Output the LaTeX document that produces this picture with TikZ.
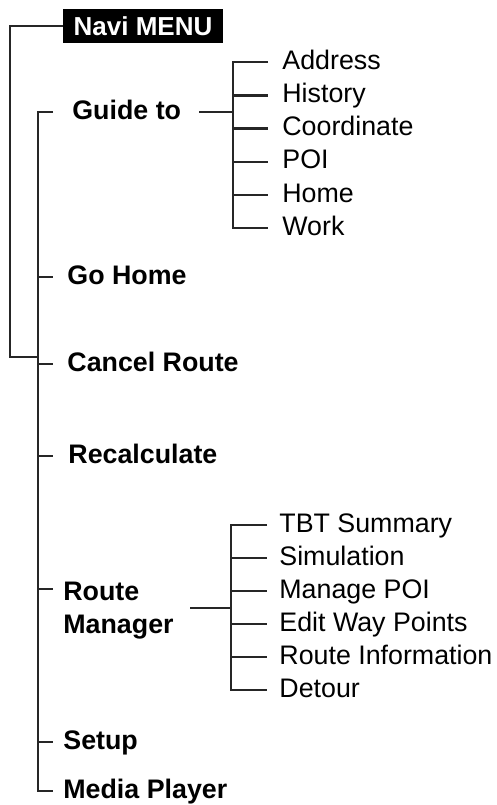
\documentclass[tikz,border=0pt]{standalone}
\usepackage{fontspec}
\setmainfont{Liberation Sans}
\usetikzlibrary{positioning}

\begin{document}
\begin{tikzpicture}[x=0.5pt, y=-0.5pt]
\tikzstyle{main}=[anchor=west, inner sep=0pt, text height=0.716em, text depth=0pt, font=\fontsize{13.4}{16.5}\selectfont\bfseries]
\tikzstyle{sub}=[anchor=west, inner sep=0pt, text height=0.716em, text depth=0pt, font=\fontsize{13.4}{16.5}\selectfont]
\tikzstyle{title}=[fill=black, text=white, inner sep=0pt, minimum width=80pt, minimum height=17pt, font=\fontsize{13}{16}\selectfont\bfseries]
\tikzstyle{connect}=[line width=1.25pt, black!85]
    \useasboundingbox (0,0) rectangle (497,805);

    % top of the tree
    \node[title] (menu) at (143,26) {Navi MENU};
    \coordinate (spine) at (38,0);
    \coordinate (tick) at (53,0);
    \coordinate (outer) at (10,357);
    \coordinate (join) at (38,357);
    \coordinate (gbar) at (233,0);
    \coordinate (rbar) at (231,0);

    % main items
    \node[main] (guide) at (72,112) {Guide to};
    \node[main] (gohome) at (67,277) {Go Home};
    \node[main] (cancel) at (67,364) {Cancel Route};
    \node[main] (recalc) at (68,456) {Recalculate};
    \node[main, text height=, align=left, anchor=north west] (routemgr) at (63,582) {Route\\Manager};
    \node[main] (setup) at (63,742) {Setup};
    \node[main] (media) at (63,791) {Media Player};

    % sub items
    \foreach \txt [count=\i] in {Address, History, Coordinate, POI, Home, Work}
        \node[sub] (g\i) at (282, 29+33.2*\i) {\txt};
    \foreach \txt [count=\i] in {TBT Summary, Simulation, Manage POI, Edit Way Points, Route Information, Detour}
        \node[sub] (r\i) at (279, 492+33*\i) {\txt};

    % connectors
    \draw[connect] (menu.west) -| (outer) -- (join);
    \draw[connect] (tick |- guide.west) -| (spine |- media.west) -- (tick |- media.west);
    \foreach \n in {gohome, cancel, recalc, setup}
        \draw[connect] (spine |- \n.west) -- (tick |- \n.west);
    \draw[connect] (spine |- 0,589) -- (tick |- 0,589);

    \draw[connect] ([xshift=9pt]guide.east) -- (gbar |- guide.east);
    \draw[connect] ([xshift=-7pt]g1.west) -| (gbar |- g6.west) -- ([xshift=-7pt]g6.west);
    \foreach \i in {2,...,5}
        \draw[connect] (gbar |- g\i.west) -- ([xshift=-7pt]g\i.west);

    \draw[connect] ([xshift=8pt]routemgr.east) -- (rbar |- routemgr.east);
    \draw[connect] ([xshift=-6pt]r1.west) -| (rbar |- r6.west) -- ([xshift=-6pt]r6.west);
    \foreach \i in {2,...,5}
        \draw[connect] (rbar |- r\i.west) -- ([xshift=-6pt]r\i.west);
\end{tikzpicture}
\end{document}
